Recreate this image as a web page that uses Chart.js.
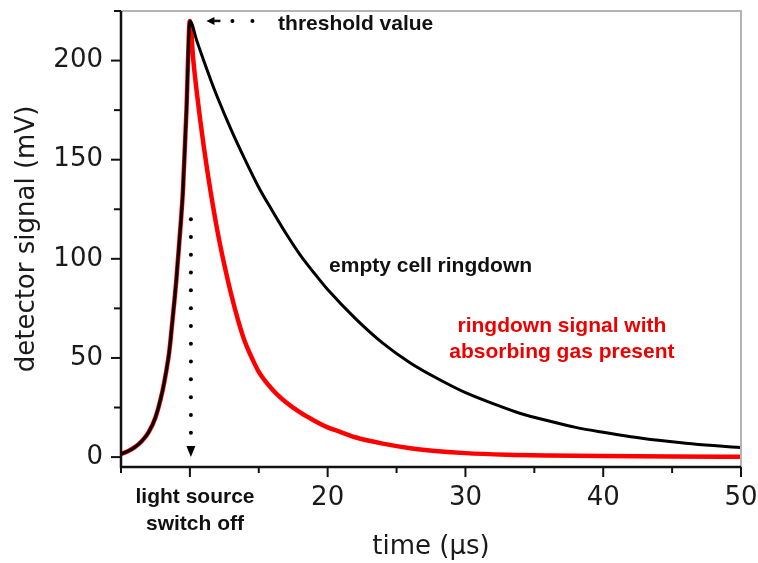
<!DOCTYPE html>
<html>
<head>
<meta charset="utf-8">
<script src="https://cdn.jsdelivr.net/npm/chart.js@4.4.0/dist/chart.umd.min.js"></script>
<style>
  html, body { margin: 0; padding: 0; background: #fff; }
  #wrap { width: 758px; height: 563px; }
</style>
</head>
<body>
<div id="wrap"><canvas id="ringdown" width="758" height="563"></canvas></div>
<script>
// values: time in µs, detector signal in mV
var riseT = [5, 5.5, 6, 6.5, 7, 7.5, 8, 8.25, 8.5, 8.75, 9, 9.25, 9.5, 9.75, 10];
var riseV = [1.5, 3, 5, 8, 12.5, 20, 33, 42, 53, 70, 88, 110, 135, 175, 220];

// empty cell ringdown (black)
var emptyT = [10.5, 11, 11.5, 12, 13, 14, 15, 16, 17, 18, 19, 20, 22, 24, 26, 28, 30, 32, 34, 36, 38, 40, 42, 44, 46, 48, 50];
var emptyV = [210, 200, 190.5, 181.5, 165, 150, 136, 124, 112.5, 102, 93, 84.5, 70, 57.5, 47.5, 39.5, 32.5, 27, 22, 18.3, 15, 12.5, 10.3, 8.5, 7, 5.8, 4.8];

// ringdown with absorbing gas (red)
var gasT = [10.25, 10.5, 10.75, 11, 11.5, 12, 12.5, 13, 13.5, 14, 14.5, 15, 16, 17, 18, 19, 20, 21, 22, 24, 26, 28, 30, 33, 36, 40, 45, 50];
var gasV = [200, 184, 170, 157, 134, 114, 97, 82, 69, 58, 50, 43, 34, 27.5, 22.5, 18.5, 15, 12.5, 10, 6.8, 4.5, 3, 2, 1.2, 0.8, 0.5, 0.3, 0.2];

var xTicks = [5, 10, 15, 20, 25, 30, 35, 40, 45, 50];
var xLabelled = [20, 30, 40, 50];
var yTicks = [0, 25, 50, 75, 100, 125, 150, 175, 200, 225];
var yLabelled = [0, 50, 100, 150, 200];

function toPoints(t, v) {
  var pts = [];
  for (var i = 0; i < t.length; i++) pts.push({x: t[i], y: v[i]});
  return pts;
}

var emptyPts = toPoints(riseT, riseV).concat(toPoints(emptyT, emptyV));
var gasPts = toPoints(riseT, riseV).concat(toPoints(gasT, gasV));

var tickFont = {family: 'DejaVu Sans', size: 26};
var noteFont = 'bold 21px "Liberation Sans", Arial, sans-serif';

function dot(ctx, x, y, r) {
  ctx.beginPath();
  ctx.arc(x, y, r, 0, Math.PI * 2);
  ctx.fill();
}

var decorations = {
  id: 'decorations',
  afterDraw: function (chart) {
    var ctx = chart.ctx, a = chart.chartArea;
    var xs = chart.scales.x, ys = chart.scales.y;
    ctx.save();

    // grey frame on top and right
    ctx.strokeStyle = '#b4b4b4';
    ctx.lineWidth = 2;
    ctx.beginPath();
    ctx.moveTo(a.left, a.top);
    ctx.lineTo(a.right, a.top);
    ctx.lineTo(a.right, a.bottom);
    ctx.stroke();

    // axes
    ctx.strokeStyle = '#111';
    ctx.lineWidth = 2.5;
    ctx.beginPath();
    ctx.moveTo(a.left, a.top);
    ctx.lineTo(a.left, a.bottom);
    ctx.lineTo(a.right, a.bottom);
    ctx.stroke();

    // tick marks, long on labelled steps
    ctx.lineWidth = 2;
    xTicks.forEach(function (v) {
      var px = xs.getPixelForValue(v);
      var len = v % 10 === 0 ? 10 : 6;
      ctx.beginPath();
      ctx.moveTo(px, a.bottom);
      ctx.lineTo(px, a.bottom + len);
      ctx.stroke();
    });
    yTicks.forEach(function (v) {
      var py = ys.getPixelForValue(v);
      var len = v % 50 === 0 ? 10 : 7;
      ctx.beginPath();
      ctx.moveTo(a.left, py);
      ctx.lineTo(a.left - len, py);
      ctx.stroke();
    });

    ctx.fillStyle = '#000';

    // threshold arrow
    var tipX = xs.getPixelForValue(11.2), tipY = ys.getPixelForValue(220);
    ctx.beginPath();
    ctx.moveTo(tipX, tipY);
    ctx.lineTo(tipX + 8, tipY - 4);
    ctx.lineTo(tipX + 8, tipY + 4);
    ctx.closePath();
    ctx.fill();
    ctx.lineWidth = 2.5;
    ctx.beginPath();
    ctx.moveTo(tipX + 7, tipY);
    ctx.lineTo(tipX + 14, tipY);
    ctx.stroke();
    dot(ctx, tipX + 26, tipY, 2);
    dot(ctx, tipX + 46, tipY, 2);

    // switch off arrow
    var ax = xs.getPixelForValue(10);
    var aTop = ys.getPixelForValue(120), aTip = ys.getPixelForValue(0);
    for (var y = aTop; y <= aTip - 20; y += 17.8) dot(ctx, ax + 1, y, 2);
    ctx.beginPath();
    ctx.moveTo(ax + 1, aTip);
    ctx.lineTo(ax - 3.5, aTip - 11);
    ctx.lineTo(ax + 5.5, aTip - 11);
    ctx.closePath();
    ctx.fill();

    // notes
    ctx.font = noteFont;
    ctx.textBaseline = 'alphabetic';
    ctx.textAlign = 'left';
    ctx.fillStyle = '#111';
    ctx.fillText('threshold value', xs.getPixelForValue(16.4), ys.getPixelForValue(215.4));
    ctx.fillText('empty cell ringdown', xs.getPixelForValue(20.1), ys.getPixelForValue(93.4));

    ctx.textAlign = 'center';
    var lx = xs.getPixelForValue(10.37);
    ctx.fillText('light source', lx, a.bottom + 36);
    ctx.fillText('switch off', lx, a.bottom + 63);

    ctx.fillStyle = '#ee0000';
    var rx = xs.getPixelForValue(37);
    ctx.fillText('ringdown signal with', rx, ys.getPixelForValue(63.1));
    ctx.fillText('absorbing gas present', rx, ys.getPixelForValue(50));

    ctx.restore();
  }
};

new Chart(document.getElementById('ringdown'), {
  type: 'line',
  data: {
    datasets: [
      {
        label: 'empty cell ringdown',
        data: emptyPts,
        borderColor: '#000000',
        borderWidth: 3,
        pointRadius: 0,
        cubicInterpolationMode: 'monotone',
        borderJoinStyle: 'round'
      },
      {
        label: 'ringdown signal with absorbing gas present',
        data: gasPts,
        borderColor: '#ff0000',
        borderWidth: 4.5,
        pointRadius: 0,
        cubicInterpolationMode: 'monotone',
        borderJoinStyle: 'round'
      }
    ]
  },
  options: {
    responsive: false,
    animation: false,
    layout: {padding: {top: 11, right: 17, left: 0, bottom: 0}},
    plugins: {
      legend: {display: false},
      tooltip: {enabled: false}
    },
    scales: {
      x: {
        type: 'linear',
        min: 5,
        max: 50,
        afterBuildTicks: function (s) {
          s.ticks = xTicks.map(function (v) { return {value: v}; });
        },
        afterFit: function (s) {
          s.height = 96;
          s.paddingLeft = 0;
          s.paddingRight = 0;
        },
        grid: {display: false, drawTicks: false},
        border: {display: false},
        ticks: {
          font: tickFont,
          color: '#1a1a1a',
          padding: 16,
          maxRotation: 0,
          autoSkip: false,
          callback: function (v) { return xLabelled.indexOf(v) >= 0 ? String(v) : ''; }
        },
        title: {display: true, text: 'time (µs)', font: tickFont, color: '#1a1a1a', padding: 0}
      },
      y: {
        min: -5,
        max: 225,
        afterBuildTicks: function (s) {
          s.ticks = yTicks.map(function (v) { return {value: v}; });
        },
        afterFit: function (s) {
          s.width = 121;
          s.paddingTop = 0;
          s.paddingBottom = 0;
        },
        grid: {display: false, drawTicks: false},
        border: {display: false},
        ticks: {
          font: tickFont,
          color: '#1a1a1a',
          padding: 18,
          autoSkip: false,
          callback: function (v) { return yLabelled.indexOf(v) >= 0 ? String(v) : ''; }
        },
        title: {display: true, text: 'detector signal (mV)', font: tickFont, color: '#1a1a1a', padding: {top: 12, bottom: 0}}
      }
    }
  },
  plugins: [decorations]
});
</script>
</body>
</html>
